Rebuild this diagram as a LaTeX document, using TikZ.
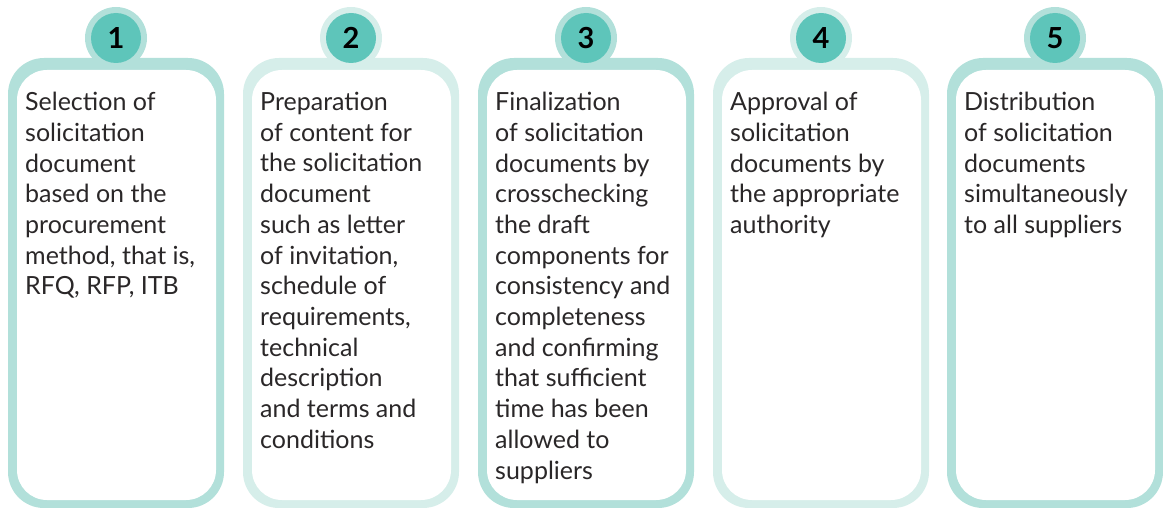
\documentclass[tikz,border=0pt]{standalone}
\usepackage{fontspec}
\setmainfont{Lato}
\usetikzlibrary{positioning}

\definecolor{ringdark}{HTML}{B2E0DA}
\definecolor{ringlight}{HTML}{D6EEEA}
\definecolor{disc}{HTML}{5EC5BA}
\definecolor{bodyink}{HTML}{2A2728}

\begin{document}
\begin{tikzpicture}[x=1pt,y=-1pt,
		numdisc/.style={circle, fill=disc, minimum size=50pt, inner sep=0pt, font=\bfseries\fontsize{29}{29}\selectfont},
		bodytext/.style={anchor=north west, align=left, inner sep=0pt, text=bodyink, font=\fontsize{25}{30.7}\selectfont}]
	\useasboundingbox (0,0) rectangle (1163,508);

	\def\Wd{216}
	\def\Ht{450}

	% frames and rings
	\foreach \x/\c in {8/ringdark, 243/ringlight, 478/ringdark, 713/ringlight, 947/ringdark}{
		\fill[\c, rounded corners=36pt] (\x,58) rectangle ++(\Wd,\Ht);
		\fill[white, rounded corners=30pt] (\x+9,70) rectangle ++(\Wd-17,\Ht-20);
		\fill[\c] (\x+108,38) circle[radius=31pt];
	}

	\node (N1) [numdisc] at (116,38) {1};
	\node (N2) [numdisc] at (351,38) {2};
	\node (N3) [numdisc] at (586,38) {3};
	\node (N4) [numdisc] at (821,38) {4};
	\node (N5) [numdisc] at (1055,38) {5};

	\node (T1) [bodytext] at (25,92) {Selection of\\solicitation\\document\\based on the\\procurement\\method, that is,\\RFQ, RFP, ITB};
	\node (T2) [bodytext] at (260,92) {Preparation\\of content for\\the solicitation\\document\\such as letter\\of invitation,\\schedule of\\requirements,\\technical\\description\\and terms and\\conditions};
	\node (T3) [bodytext] at (495,92) {Finalization\\of solicitation\\documents by\\crosschecking\\the draft\\components for\\consistency and\\completeness\\and confirming\\that sufficient\\time has been\\allowed to\\suppliers};
	\node (T4) [bodytext] at (730,92) {Approval of\\solicitation\\documents by\\the appropriate\\authority};
	\node (T5) [bodytext] at (964,92) {Distribution\\of solicitation\\documents\\simultaneously\\to all suppliers};
\end{tikzpicture}
\end{document}
